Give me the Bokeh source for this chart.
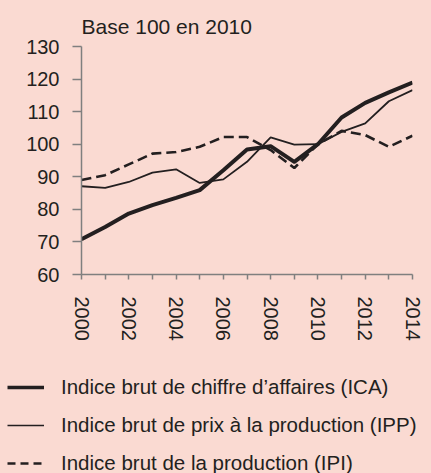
from bokeh.plotting import figure
from bokeh.layouts import column
from bokeh.models import Range1d, FixedTicker, Legend, LegendItem
from bokeh.embed import file_html
from bokeh.resources import INLINE

years = list(range(2000, 2015))
ica = [70.8, 74.6, 78.7, 81.3, 83.5, 85.9, 92.0, 98.4, 99.4, 94.6, 100.0, 108.2, 112.7, 115.9, 118.9]
ipp = [87.1, 86.6, 88.4, 91.3, 92.3, 88.1, 89.2, 94.6, 102.1, 99.9, 100.0, 103.8, 106.4, 113.2, 116.6]
ipi = [89.0, 90.5, 93.8, 97.1, 97.6, 99.2, 102.2, 102.2, 98.2, 92.7, 100.0, 104.1, 102.8, 99.2, 102.6]
y_ticks = [60, 70, 80, 90, 100, 110, 120, 130]
x_tick_labels = {y: (str(y) if y % 2 == 0 else "") for y in years}
labels = ["Indice brut de chiffre d\u2019affaires (ICA)",
          "Indice brut de prix \u00e0 la production (IPP)",
          "Indice brut de la production (IPI)"]
subtitle = "Base 100 en 2010"

BG = "#FADAD2"
INK = "#231f20"
AXIS = "#7f7f7f"
FONT = "Liberation Sans"

H1 = 370
p = figure(width=431, height=H1, output_backend="svg", toolbar_location=None,
           x_range=Range1d(2000, 2014), y_range=Range1d(60, 130))
p.frame_width = 331
p.frame_height = 228
p.min_border_left = 81
p.min_border_top = 46
p.min_border_right = 431 - 81 - 331
p.min_border_bottom = H1 - 46 - 228
p.background_fill_color = BG
p.border_fill_color = BG
p.outline_line_color = None
p.grid.visible = False

p.title.text = subtitle
p.title.align = "left"
p.title.text_font = FONT
p.title.text_font_style = "normal"
p.title.text_font_size = "21px"
p.title.text_color = INK
p.title.standoff = 18
p.title.offset = 0

p.line(years, ica, line_color=INK, line_width=4, line_join="round")
p.line(years, ipp, line_color=INK, line_width=1.8)
p.line(years, ipi, line_color=INK, line_width=2.6, line_dash="10 5")

for ax in (p.xaxis[0], p.yaxis[0]):
    ax.axis_line_color = AXIS
    ax.axis_line_width = 1.5
    ax.major_tick_line_color = AXIS
    ax.major_tick_line_width = 1.5
    ax.minor_tick_line_color = None
    ax.major_tick_in = 0
    ax.major_label_text_font = FONT
    ax.major_label_text_font_size = "20px"
    ax.major_label_text_color = INK

p.yaxis.ticker = FixedTicker(ticks=y_ticks)
p.yaxis.major_tick_out = 9
p.yaxis.major_label_standoff = 13

p.xaxis.ticker = FixedTicker(ticks=years)
p.xaxis.major_label_overrides = x_tick_labels
p.xaxis.major_tick_out = 5
p.xaxis.major_label_orientation = "vertical"
p.xaxis.major_label_standoff = 17

# legend panel (series drawn off-view so only the legend samples show)
H2 = 473 - H1
q = figure(width=431, height=H2, output_backend="svg", toolbar_location=None,
           x_range=Range1d(0, 1), y_range=Range1d(0, 1),
           x_axis_location=None, y_axis_location=None)
q.frame_width = 431
q.frame_height = H2
q.min_border_left = 0
q.min_border_right = 0
q.min_border_top = 0
q.min_border_bottom = 0
q.background_fill_color = BG
q.border_fill_color = BG
q.outline_line_color = None
q.grid.visible = False
l1 = q.line(years, ica, line_color=INK, line_width=3.5)
l2 = q.line(years, ipp, line_color=INK, line_width=1.5)
l3 = q.line(years, ipi, line_color=INK, line_width=2.5, line_dash="8 5")

row_h = 26
gap = 12
legend_h = 3 * row_h + 2 * gap
top = 393.3 - 6 - H1 - row_h / 2
legend = Legend(items=[LegendItem(label=labels[0], renderers=[l1]),
                       LegendItem(label=labels[1], renderers=[l2]),
                       LegendItem(label=labels[2], renderers=[l3])],
                location=(7, round(H2 - top - legend_h)), padding=0, margin=0, spacing=gap,
                glyph_width=37, glyph_height=row_h, label_height=row_h, label_standoff=17,
                label_text_font=FONT, label_text_font_size="20.5px", label_text_color=INK,
                label_text_baseline="alphabetic",
                border_line_alpha=0, background_fill_alpha=0)
q.add_layout(legend, "center")

layout = column(p, q, spacing=0)

try:
    from jinja2 import Template
    tmpl = Template("""{% extends base %}
{% block preamble %}<style>html, body { background-color: #FADAD2; margin: 0; overflow: hidden; }</style>{% endblock %}""")
    html = file_html(layout, INLINE, template=tmpl)
except Exception:
    html = file_html(layout, INLINE)
open("out.html", "w").write(html)
